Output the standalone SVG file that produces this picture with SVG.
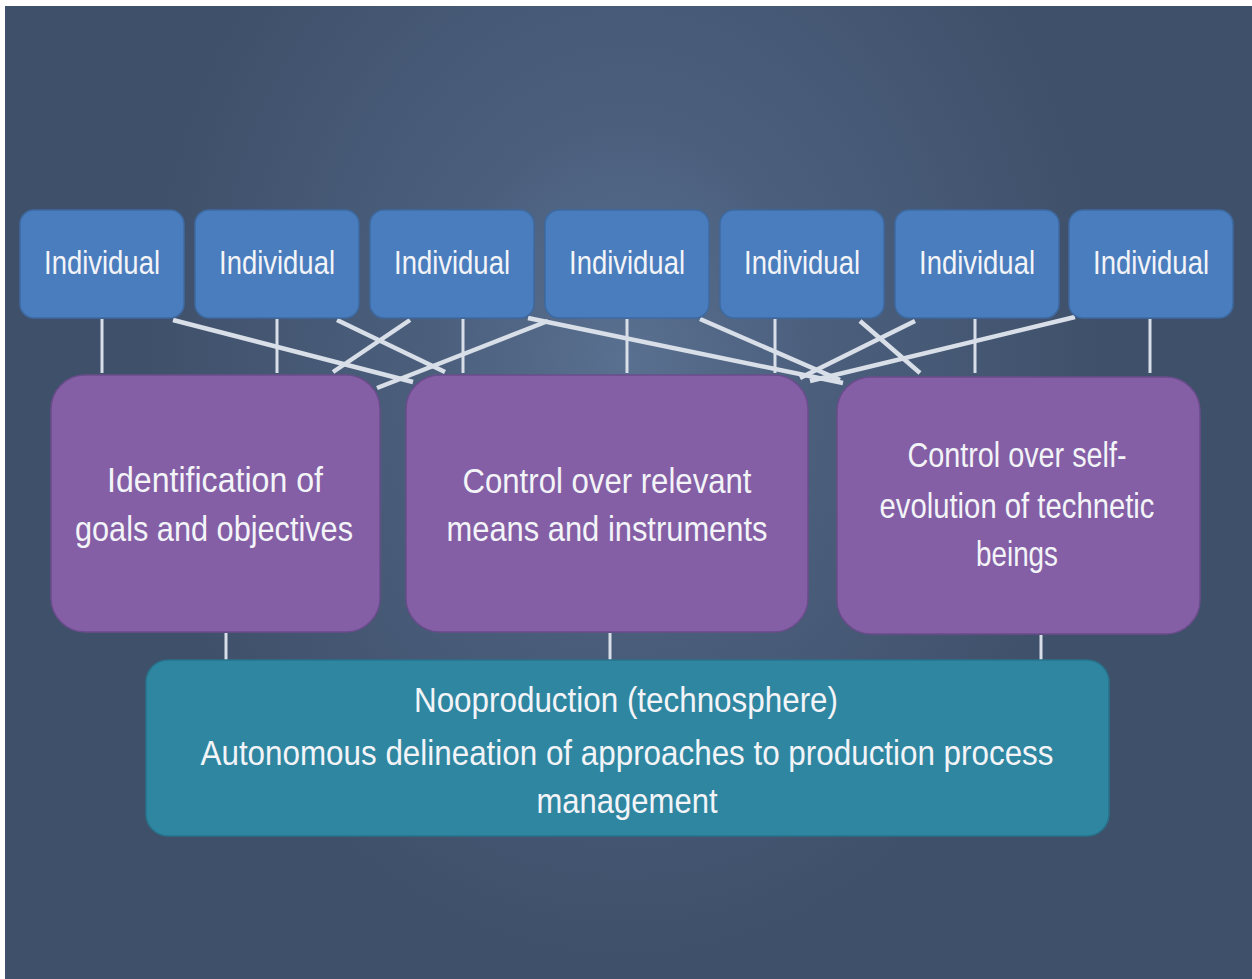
<svg xmlns="http://www.w3.org/2000/svg" width="1252" height="979" viewBox="0 0 1252 979">
  <defs>
    <radialGradient id="bg" gradientUnits="userSpaceOnUse" cx="625" cy="360" r="600" gradientTransform="translate(625 360) scale(0.8 1) translate(-625 -360)">
      <stop offset="0" stop-color="#5a7090"/>
      <stop offset="0.4" stop-color="#4b5f7d"/>
      <stop offset="1" stop-color="#3f506a"/>
    </radialGradient>
    <style>
      .ind rect { fill: #4a7dbd; stroke: #3e6aa2; stroke-width: 1.5; }
      .pur rect { fill: #845fa5; stroke: #6b4c8c; stroke-width: 1.5; }
      .teal rect { fill: #2f86a0; stroke: #28728a; stroke-width: 1.5; }
      text { font-family: "Liberation Sans", Arial, sans-serif; fill: #f3f4f8; text-anchor: middle; }
      .it { font-size: 34px; }
      .bt { font-size: 35px; }
      .v { stroke: #d9dfe8; stroke-width: 3; fill: none; }
      .d { stroke: #d9dfe8; stroke-width: 4.5; fill: none; stroke-linecap: butt; }
    </style>
  </defs>
  <rect x="0" y="0" width="1252" height="979" fill="#ffffff"/>
  <rect x="5" y="6" width="1247" height="973" fill="url(#bg)"/>

  <g id="connectors">
    <line class="v" x1="102" y1="319" x2="102" y2="373"/>
    <line class="v" x1="277" y1="319" x2="277" y2="373"/>
    <line class="v" x1="463" y1="319" x2="463" y2="373"/>
    <line class="v" x1="627" y1="319" x2="627" y2="373"/>
    <line class="v" x1="775" y1="319" x2="775" y2="373"/>
    <line class="v" x1="975" y1="319" x2="975" y2="373"/>
    <line class="v" x1="1150" y1="319" x2="1150" y2="373"/>
    <line class="d" x1="173" y1="320" x2="413" y2="382"/>
    <line class="d" x1="337" y1="320" x2="445" y2="372"/>
    <line class="d" x1="410" y1="320" x2="333" y2="372"/>
    <line class="d" x1="548" y1="321" x2="377" y2="388"/>
    <line class="d" x1="528" y1="318" x2="843" y2="383"/>
    <line class="d" x1="700" y1="319" x2="840" y2="380"/>
    <line class="d" x1="860" y1="321" x2="920" y2="373"/>
    <line class="d" x1="915" y1="321" x2="800" y2="378"/>
    <line class="d" x1="1075" y1="317" x2="810" y2="381"/>
    <line class="v" x1="226" y1="633" x2="226" y2="660"/>
    <line class="v" x1="610" y1="633" x2="610" y2="660"/>
    <line class="v" x1="1041" y1="635" x2="1041" y2="660"/>
  </g>

  <g id="ind1" class="ind"><rect x="20" y="210" width="164" height="108" rx="14"/><text class="it" x="102" y="274" textLength="116" lengthAdjust="spacingAndGlyphs">Individual</text></g>
  <g id="ind2" class="ind"><rect x="195" y="210" width="164" height="108" rx="14"/><text class="it" x="277" y="274" textLength="116" lengthAdjust="spacingAndGlyphs">Individual</text></g>
  <g id="ind3" class="ind"><rect x="370" y="210" width="164" height="108" rx="14"/><text class="it" x="452" y="274" textLength="116" lengthAdjust="spacingAndGlyphs">Individual</text></g>
  <g id="ind4" class="ind"><rect x="545" y="210" width="164" height="108" rx="14"/><text class="it" x="627" y="274" textLength="116" lengthAdjust="spacingAndGlyphs">Individual</text></g>
  <g id="ind5" class="ind"><rect x="720" y="210" width="164" height="108" rx="14"/><text class="it" x="802" y="274" textLength="116" lengthAdjust="spacingAndGlyphs">Individual</text></g>
  <g id="ind6" class="ind"><rect x="895" y="210" width="164" height="108" rx="14"/><text class="it" x="977" y="274" textLength="116" lengthAdjust="spacingAndGlyphs">Individual</text></g>
  <g id="ind7" class="ind"><rect x="1069" y="210" width="164" height="108" rx="14"/><text class="it" x="1151" y="274" textLength="116" lengthAdjust="spacingAndGlyphs">Individual</text></g>

  <g id="goals" class="pur">
    <rect x="51" y="375" width="329" height="257" rx="34"/>
    <text class="bt" x="215" y="492" textLength="216" lengthAdjust="spacingAndGlyphs">Identification of</text>
    <text class="bt" x="214" y="541" textLength="278" lengthAdjust="spacingAndGlyphs">goals and objectives</text>
  </g>
  <g id="means" class="pur">
    <rect x="406" y="375" width="402" height="257" rx="34"/>
    <text class="bt" x="607" y="493" textLength="289" lengthAdjust="spacingAndGlyphs">Control over relevant</text>
    <text class="bt" x="607" y="541" textLength="321" lengthAdjust="spacingAndGlyphs">means and instruments</text>
  </g>
  <g id="selfevo" class="pur">
    <rect x="837" y="377" width="363" height="257" rx="34"/>
    <text class="bt" x="1017" y="467" textLength="219" lengthAdjust="spacingAndGlyphs">Control over self-</text>
    <text class="bt" x="1017" y="518" textLength="275" lengthAdjust="spacingAndGlyphs">evolution of technetic</text>
    <text class="bt" x="1017" y="566" textLength="82" lengthAdjust="spacingAndGlyphs">beings</text>
  </g>

  <g id="nooproduction" class="teal">
    <rect x="146" y="660" width="963" height="176" rx="22"/>
    <text class="bt" x="626" y="712" textLength="424" lengthAdjust="spacingAndGlyphs">Nooproduction (technosphere)</text>
    <text class="bt" x="627" y="765" textLength="853" lengthAdjust="spacingAndGlyphs">Autonomous delineation of approaches to production process</text>
    <text class="bt" x="627" y="813" textLength="181" lengthAdjust="spacingAndGlyphs">management</text>
  </g>
</svg>
